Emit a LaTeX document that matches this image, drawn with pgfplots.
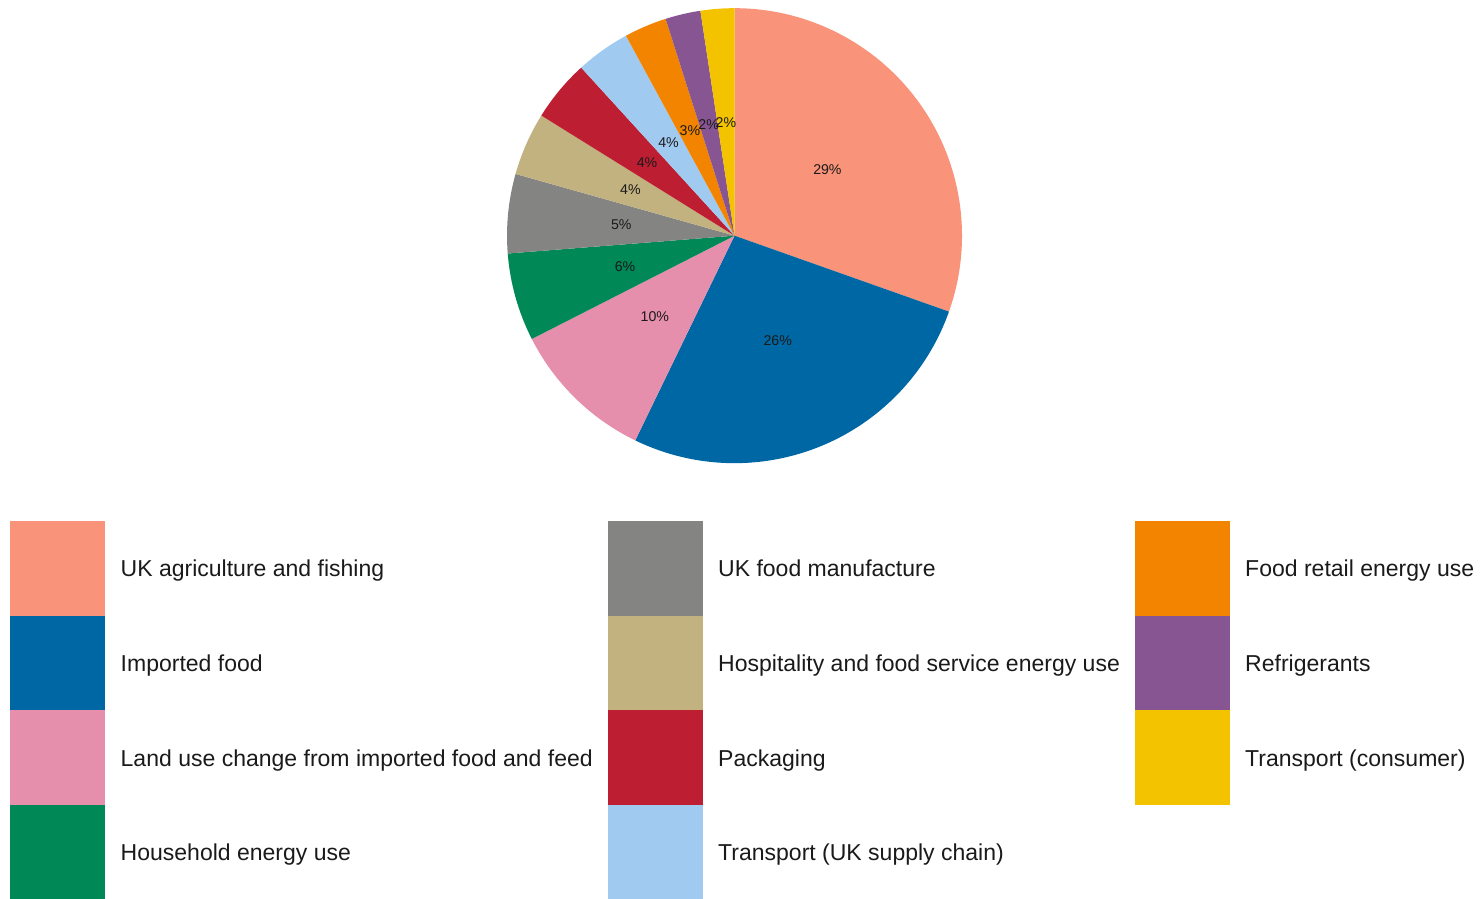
\documentclass[border=0pt]{standalone}
\usepackage{pgfplots}
\pgfplotsset{compat=1.18}
\usepackage{pgfplotstable}
\usepackage{fontspec}
\setmainfont{Liberation Sans}

\definecolor{pie0}{HTML}{F99379}
\definecolor{pie1}{HTML}{0067A5}
\definecolor{pie2}{HTML}{E68FAC}
\definecolor{pie3}{HTML}{008856}
\definecolor{pie4}{HTML}{848482}
\definecolor{pie5}{HTML}{C2B280}
\definecolor{pie6}{HTML}{BE1E32}
\definecolor{pie7}{HTML}{A1CAF1}
\definecolor{pie8}{HTML}{F38400}
\definecolor{pie9}{HTML}{875692}
\definecolor{pie10}{HTML}{F3C300}
\definecolor{txt}{HTML}{1A1A1A}

% share of UK food system emissions (%), label = rounded share
\pgfplotstableread[col sep=comma]{
value,label,name
29.2,29,UK agriculture and fishing
25.7,26,Imported food
9.9,10,Land use change from imported food and feed
6.0,6,Household energy use
5.4,5,UK food manufacture
4.3,4,Hospitality and food service energy use
4.2,4,Packaging
3.7,4,Transport (UK supply chain)
2.9,3,Food retail energy use
2.4,2,Refrigerants
2.3,2,Transport (consumer)
}\piedata

\pgfmathsetmacro\pietotal{0}
\pgfplotsforeachungrouped \i in {0,...,10}{%
  \pgfplotstablegetelem{\i}{value}\of\piedata
  \pgfmathsetmacro\pietotal{\pietotal+\pgfplotsretval}%
}
\pgfmathsetmacro\piecum{0}
\pgfplotsforeachungrouped \i in {0,...,10}{%
  \pgfplotstablegetelem{\i}{value}\of\piedata
  \let\pieval\pgfplotsretval
  \pgfmathsetmacro\piesa{90-\piecum/\pietotal*360}%
  \pgfmathsetmacro\piecum{\piecum+\pieval}%
  \pgfmathsetmacro\pieea{90-\piecum/\pietotal*360}%
  \pgfmathsetmacro\piema{(\piesa+\pieea)/2}%
  \expandafter\xdef\csname piesa\i\endcsname{\piesa}%
  \expandafter\xdef\csname pieea\i\endcsname{\pieea}%
  \expandafter\xdef\csname piema\i\endcsname{\piema}%
  \pgfplotstablegetelem{\i}{label}\of\piedata
  \expandafter\xdef\csname pielab\i\endcsname{\pgfplotsretval}%
  \pgfplotstablegetelem{\i}{name}\of\piedata
  \expandafter\xdef\csname piename\i\endcsname{\pgfplotsretval}%
}

\begin{document}
\begin{tikzpicture}[x=1bp,y=1bp]
\path[use as bounding box] (0,0) rectangle (1483,898);
\begin{axis}[
  at={(734.5bp,662.3bp)}, anchor=center,
  width=455bp, height=455bp, scale only axis,
  xmin=-1, xmax=1, ymin=-1, ymax=1,
  hide axis, clip=false,
]
\pgfplotsinvokeforeach{0,...,10}{%
  \fill[pie#1] (axis cs:0,0) -- ++(\csname piesa#1\endcsname:227.5bp)
     arc[start angle=\csname piesa#1\endcsname, end angle=\csname pieea#1\endcsname, radius=227.5bp] -- cycle;
}
\pgfplotsinvokeforeach{0,...,10}{%
  \node[text=txt, font=\fontsize{14.2pt}{16pt}\selectfont, inner sep=0pt]
    at (axis cs:{0.5*cos(\csname piema#1\endcsname)},{0.5*sin(\csname piema#1\endcsname)}) {\csname pielab#1\endcsname\%};
}
\end{axis}
% legend (column-major, 4 rows)
\foreach \i/\col/\row in {0/0/0,1/0/1,2/0/2,3/0/3,4/1/0,5/1/1,6/1/2,7/1/3,8/2/0,9/2/1,10/2/2}{
  \pgfmathsetmacro\sx{{10,608,1135}[\col]}
  \pgfmathsetmacro\tx{{120.5,718,1245}[\col]}
  \pgfmathsetmacro\ty{898-521-\row*94.7}
  \fill[pie\i] (\sx,\ty) rectangle ++(94.8,-94.7);
  \node[anchor=base west, inner sep=0pt, text=txt, font=\fontsize{23.1pt}{27pt}\selectfont]
    at (\tx,\ty-47.35-8.3) {\csname piename\i\endcsname};
}
\end{tikzpicture}
\end{document}
